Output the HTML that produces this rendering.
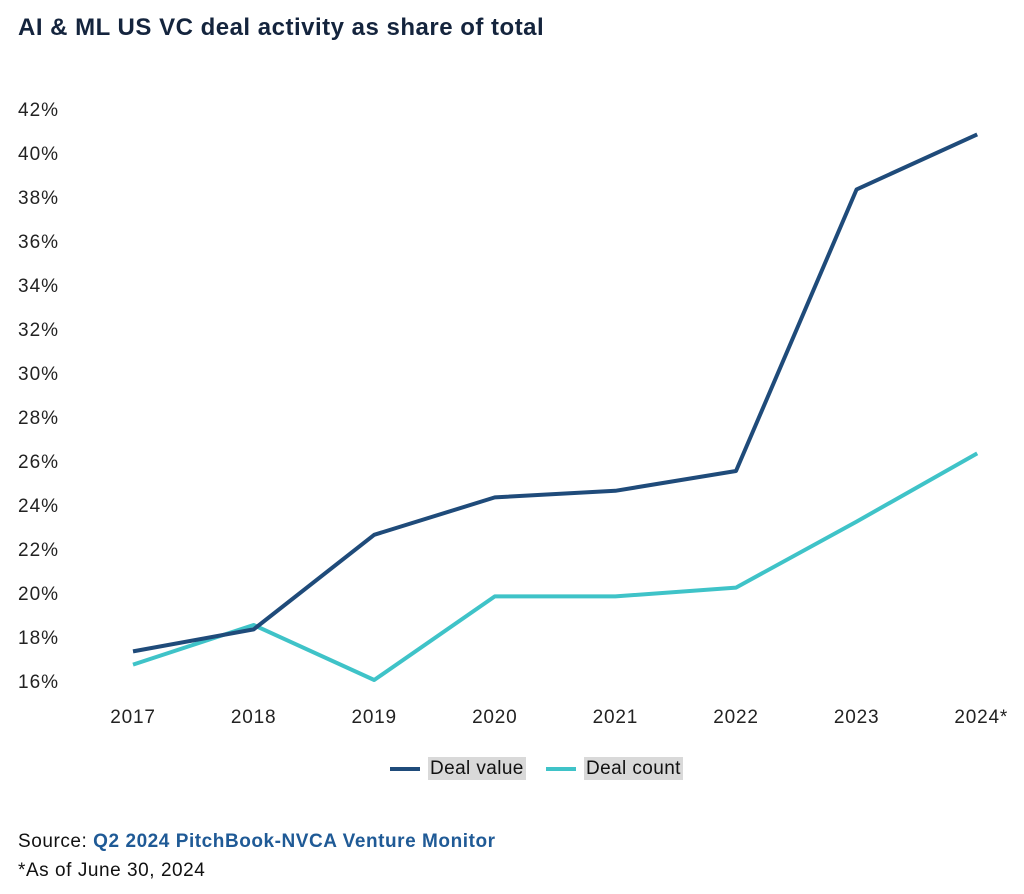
<!DOCTYPE html>
<html><head><meta charset="utf-8"><style>
body{margin:0;width:1024px;height:894px;background:#fff;font-family:"Liberation Sans",sans-serif;overflow:hidden;position:relative}
.title{position:absolute;left:18px;top:14px;font-size:24px;font-weight:bold;color:#14243d;letter-spacing:0.5px}
.src{position:absolute;left:18px;font-size:19px;color:#111;letter-spacing:0.55px}
.lg{position:absolute;top:758px;font-size:19px;color:#111;letter-spacing:0.4px}
.lg span.t{background:#d9d9d9;padding:1px 2px}
.sw{display:inline-block;width:30px;height:4px;vertical-align:middle;margin-right:8px}
</style></head><body>
<div class="title">AI &amp; ML US VC deal activity as share of total</div>
<svg id="chart" width="1024" height="740" style="position:absolute;left:0;top:0"></svg>
<div class="lg" style="left:390px"><span class="sw" style="background:#1f4b7a"></span><span class="t">Deal value</span></div>
<div class="lg" style="left:546px"><span class="sw" style="background:#3fc3c8"></span><span class="t">Deal count</span></div>
<div class="src" style="top:831px">Source: <b style="color:#1f5a96">Q2 2024 PitchBook-NVCA Venture Monitor</b></div>
<div class="src" style="top:860px">*As of June 30, 2024</div>
<script>
const categories=["2017","2018","2019","2020","2021","2022","2023","2024*"];
const dealValue=[17.3,18.3,22.6,24.3,24.6,25.5,38.3,40.8];
const dealCount=[16.7,18.5,16.0,19.8,19.8,20.2,23.2,26.3];
const yTicks=[16,18,20,22,24,26,28,30,32,34,36,38,40,42];
const svg=document.getElementById('chart');const NS='http://www.w3.org/2000/svg';
const x=i=>133+i*120.6;const y=v=>680-(v-16)*22;
function mk(t,a){const e=document.createElementNS(NS,t);for(const k in a)e.setAttribute(k,a[k]);svg.appendChild(e);return e;}
yTicks.forEach(v=>{const e=mk('text',{x:18,y:y(v)+8,'font-size':19,'letter-spacing':1,fill:'#222','font-family':'Liberation Sans'});e.textContent=v+'%';

});
categories.forEach((c,i)=>{const e=mk('text',{x:x(i)+(i==7?4:0),y:723,'font-size':19,'letter-spacing':0.8,fill:'#222','text-anchor':'middle','font-family':'Liberation Sans'});e.textContent=c;

});
function line(d,col,name){const e=mk('polyline',{points:d.map((v,i)=>x(i)+','+y(v)).join(' '),fill:'none',stroke:col,'stroke-width':4,'stroke-linejoin':'round'});

}
line(dealCount,'#3fc3c8','deal-count-line');
line(dealValue,'#1f4b7a','deal-value-line');
</script>
</body></html>
